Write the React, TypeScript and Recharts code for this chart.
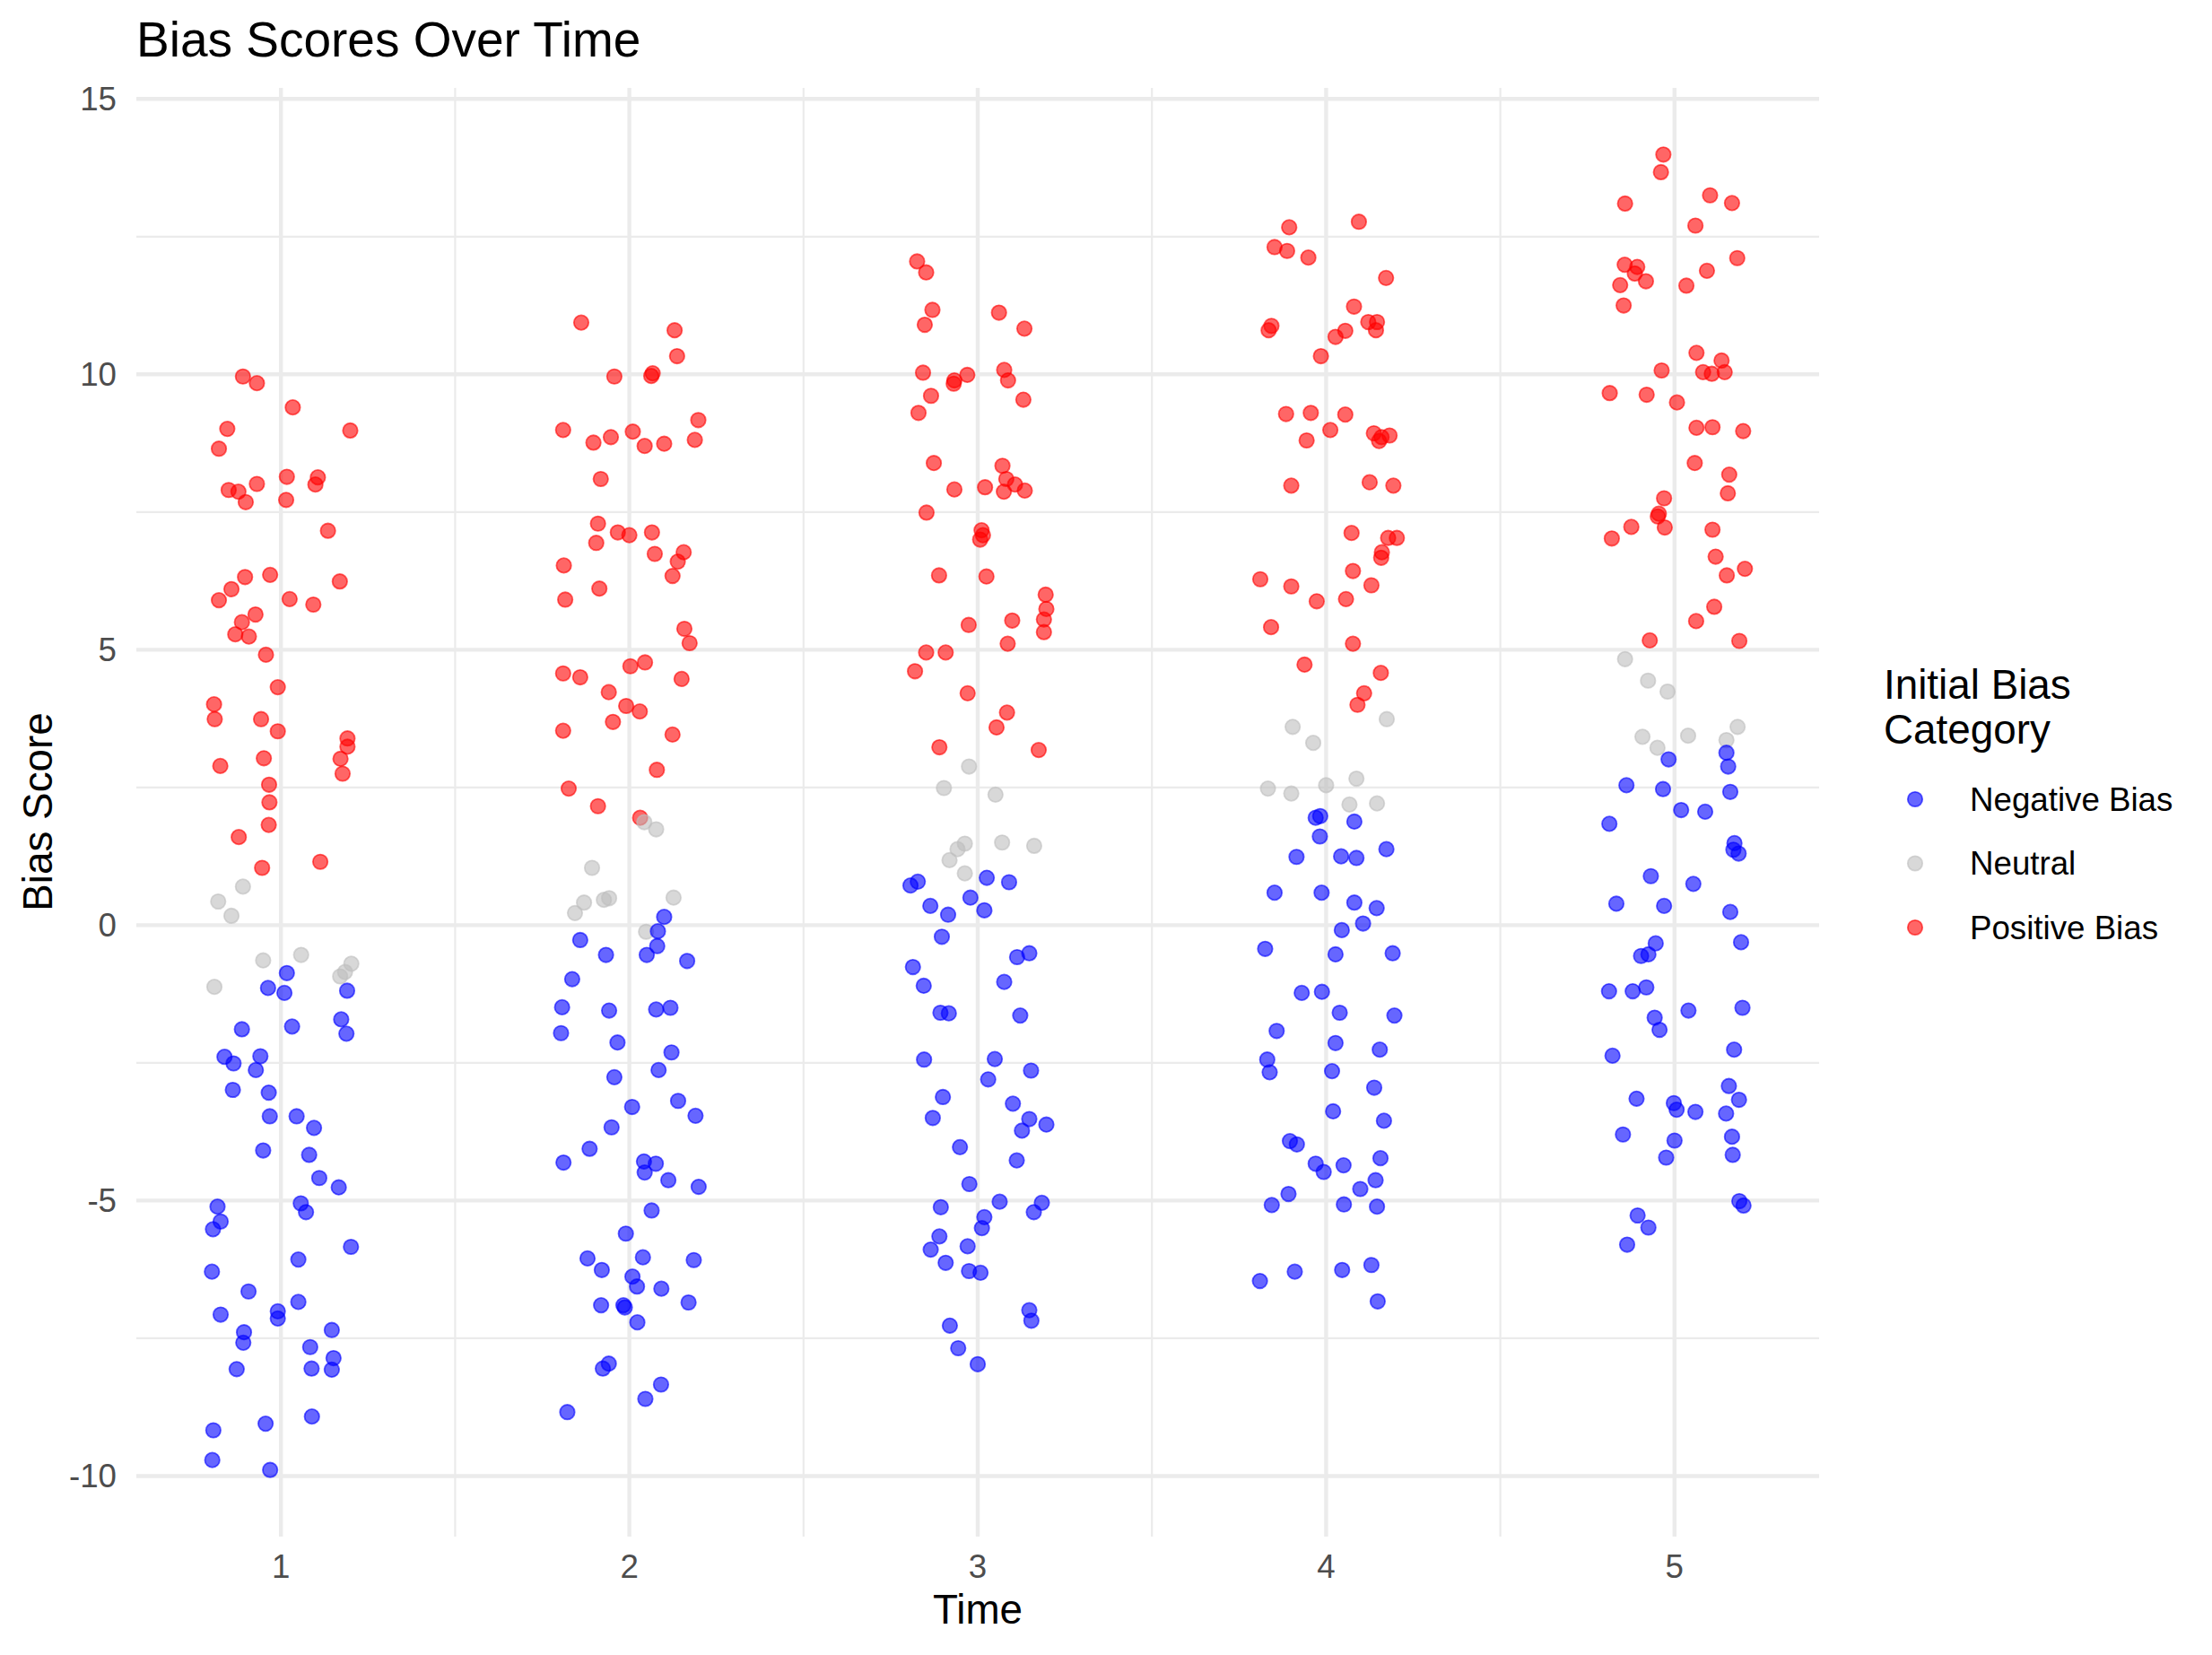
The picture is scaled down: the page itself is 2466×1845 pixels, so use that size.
import { ScatterChart, Scatter, XAxis, YAxis, CartesianGrid } from 'recharts';

const FONT = '"Liberation Sans", Arial, Helvetica, sans-serif';

const TIME_TICKS = [1, 2, 3, 4, 5];
const TIME_MINOR = [1.5, 2.5, 3.5, 4.5];
const SCORE_TICKS = [-10, -5, 0, 5, 10, 15];
const SCORE_MINOR = [-7.5, -2.5, 2.5, 7.5, 12.5];

const CATEGORIES = ['Negative Bias', 'Neutral', 'Positive Bias'];
const COLORS: Record<string, string> = {
  'Negative Bias': '#0000FF',
  Neutral: '#BEBEBE',
  'Positive Bias': '#FF0000',
};

// [jittered time, bias score]
const positiveBias: [number, number][] = [
  // time 1
  [0.891, 9.96], [0.931, 9.84], [1.034, 9.4], [0.846, 9.01], [1.199, 8.98], [0.822, 8.65],
  [1.017, 8.14], [1.106, 8.13], [1.099, 8.0], [0.85, 7.9], [0.878, 7.87], [0.931, 8.01],
  [0.899, 7.68], [1.015, 7.72], [1.135, 7.16], [0.897, 6.32], [0.969, 6.36], [0.858, 6.1],
  [1.169, 6.24], [0.822, 5.9], [1.025, 5.92], [1.093, 5.82], [0.927, 5.64], [0.888, 5.5],
  [0.869, 5.28], [0.908, 5.24], [0.957, 4.91], [0.991, 4.32], [0.808, 4.01], [0.81, 3.74],
  [0.943, 3.74], [0.991, 3.52], [1.191, 3.39], [1.191, 3.24], [1.171, 3.02], [1.177, 2.75],
  [0.951, 3.03], [0.826, 2.89], [0.966, 2.55], [0.967, 2.23], [0.965, 1.82], [0.879, 1.6],
  [0.946, 1.04], [1.113, 1.15],
  // time 2
  [1.862, 10.94], [2.13, 10.8], [2.137, 10.33], [1.957, 9.96], [2.067, 10.02], [2.063, 9.97],
  [1.81, 8.99], [1.897, 8.76], [1.947, 8.86], [2.01, 8.96], [2.044, 8.7], [2.1, 8.74],
  [2.198, 9.17], [2.188, 8.81], [1.918, 8.1], [1.91, 7.29], [1.967, 7.13], [2.0, 7.08],
  [2.065, 7.13], [1.905, 6.94], [2.073, 6.74], [2.156, 6.77], [2.139, 6.6], [2.124, 6.34],
  [1.812, 6.53], [1.914, 6.11], [1.816, 5.91], [2.158, 5.38], [2.173, 5.12], [1.81, 4.57],
  [1.859, 4.5], [2.003, 4.7], [2.045, 4.77], [2.15, 4.47], [1.941, 4.23], [1.991, 3.98],
  [2.03, 3.88], [1.953, 3.69], [1.81, 3.53], [2.124, 3.46], [2.079, 2.82], [1.826, 2.48],
  [1.91, 2.16], [2.031, 1.95],
  // time 3
  [2.826, 12.05], [2.852, 11.85], [2.87, 11.17], [2.848, 10.9], [3.061, 11.12], [3.134, 10.83],
  [2.843, 10.03], [2.933, 9.89], [2.931, 9.83], [2.97, 9.99], [3.076, 10.08], [3.087, 9.89],
  [2.866, 9.61], [2.83, 9.3], [3.131, 9.54], [2.874, 8.39], [3.071, 8.34], [3.082, 8.1],
  [3.107, 8.0], [3.075, 7.87], [3.135, 7.89], [2.933, 7.91], [3.021, 7.95], [2.853, 7.49],
  [3.011, 7.17], [3.015, 7.08], [3.007, 7.0], [2.889, 6.35], [3.025, 6.33], [3.195, 6.0],
  [3.197, 5.74], [3.19, 5.55], [3.19, 5.32], [3.099, 5.53], [3.086, 5.11], [2.974, 5.45],
  [2.852, 4.95], [2.908, 4.95], [2.82, 4.61], [2.971, 4.21], [3.084, 3.86], [3.054, 3.59],
  [2.89, 3.23], [3.175, 3.18],
  // time 4
  [3.894, 12.67], [4.094, 12.77], [3.852, 12.31], [3.888, 12.24], [3.949, 12.12], [4.172, 11.75],
  [4.08, 11.23], [3.843, 10.88], [3.835, 10.8], [4.121, 10.95], [4.146, 10.95], [4.143, 10.8],
  [4.055, 10.79], [4.027, 10.68], [3.985, 10.33], [3.885, 9.28], [3.956, 9.3], [4.055, 9.27],
  [4.012, 8.99], [3.944, 8.8], [4.137, 8.93], [4.159, 8.86], [4.152, 8.79], [4.182, 8.89],
  [3.9, 7.98], [4.125, 8.04], [4.193, 7.98], [4.073, 7.12], [4.178, 7.03], [4.203, 7.03],
  [4.16, 6.77], [4.158, 6.67], [3.811, 6.28], [3.9, 6.15], [4.077, 6.43], [4.13, 6.17],
  [3.973, 5.88], [4.057, 5.92], [3.842, 5.41], [4.077, 5.11], [3.938, 4.73], [4.157, 4.58],
  [4.109, 4.21], [4.09, 4.0],
  // time 5
  [4.968, 13.99], [4.961, 13.67], [5.102, 13.25], [5.165, 13.11], [4.858, 13.1], [5.06, 12.7],
  [5.18, 12.11], [4.857, 11.99], [4.893, 11.95], [4.886, 11.83], [5.093, 11.88], [4.844, 11.62],
  [4.918, 11.69], [5.034, 11.61], [4.854, 11.25], [5.063, 10.39], [5.135, 10.25], [4.963, 10.07],
  [5.082, 10.04], [5.107, 10.01], [5.144, 10.04], [4.814, 9.66], [4.92, 9.63], [5.007, 9.49],
  [5.063, 9.03], [5.109, 9.04], [5.197, 8.97], [5.058, 8.39], [5.157, 8.18], [5.153, 7.84],
  [4.97, 7.75], [4.955, 7.47], [4.952, 7.42], [4.972, 7.22], [4.876, 7.23], [4.82, 7.02],
  [5.109, 7.18], [5.118, 6.69], [5.15, 6.35], [5.202, 6.47], [5.114, 5.78], [5.062, 5.52],
  [4.929, 5.17], [5.186, 5.16],
];

const neutral: [number, number][] = [
  // time 1
  [0.891, 0.7], [0.82, 0.43], [0.858, 0.17], [0.949, -0.64], [1.058, -0.54], [0.809, -1.12],
  [1.202, -0.7], [1.184, -0.85], [1.17, -0.93],
  // time 2
  [2.043, 1.87], [2.077, 1.74], [1.893, 1.04], [1.87, 0.41], [1.844, 0.22], [1.927, 0.46],
  [1.942, 0.49], [2.127, 0.5], [2.048, -0.12],
  // time 3
  [2.975, 2.88], [2.903, 2.49], [3.051, 2.37], [2.963, 1.48], [2.942, 1.38], [2.919, 1.18],
  [3.07, 1.5], [3.162, 1.44], [2.963, 0.94],
  // time 4
  [4.174, 3.74], [3.904, 3.6], [3.963, 3.31], [3.833, 2.48], [3.9, 2.39], [4.0, 2.54],
  [4.087, 2.66], [4.067, 2.19], [4.146, 2.21],
  // time 5
  [4.858, 4.83], [4.924, 4.44], [4.98, 4.24], [4.908, 3.42], [4.951, 3.22], [5.039, 3.44],
  [5.181, 3.6], [5.149, 3.36],
];

const negativeBias: [number, number][] = [
  // time 1
  [1.017, -0.87], [0.963, -1.14], [1.01, -1.23], [1.19, -1.19], [1.032, -1.84], [1.173, -1.71],
  [1.188, -1.97], [0.888, -1.89], [0.838, -2.39], [0.864, -2.51], [0.941, -2.38], [0.928, -2.63],
  [0.862, -2.99], [0.965, -3.04], [0.968, -3.47], [1.045, -3.47], [1.095, -3.68], [0.949, -4.09],
  [1.081, -4.17], [1.11, -4.59], [1.166, -4.76], [0.818, -5.11], [0.827, -5.38], [0.805, -5.52],
  [1.057, -5.05], [1.072, -5.21], [1.201, -5.84], [1.05, -6.07], [0.802, -6.29], [0.907, -6.65],
  [0.827, -7.07], [0.991, -7.01], [0.991, -7.14], [1.05, -6.84], [0.894, -7.39], [0.892, -7.58],
  [1.146, -7.35], [1.084, -7.66], [1.151, -7.86], [1.146, -8.07], [1.088, -8.05], [0.873, -8.06],
  [1.089, -8.92], [0.806, -9.17], [0.956, -9.05], [0.803, -9.71], [0.969, -9.89],
  // time 2
  [2.1, 0.15], [2.082, -0.11], [2.08, -0.38], [2.05, -0.54], [1.859, -0.27], [1.933, -0.54],
  [2.166, -0.65], [1.836, -0.98], [1.807, -1.49], [1.942, -1.55], [2.077, -1.53], [2.118, -1.5],
  [1.804, -1.96], [1.966, -2.13], [2.121, -2.31], [2.084, -2.63], [1.957, -2.76], [2.008, -3.3],
  [2.14, -3.19], [2.19, -3.46], [1.949, -3.67], [1.886, -4.06], [1.811, -4.31], [2.042, -4.29],
  [2.076, -4.33], [2.044, -4.49], [2.112, -4.63], [2.199, -4.75], [2.064, -5.18], [1.99, -5.6],
  [1.88, -6.05], [1.921, -6.26], [2.039, -6.03], [2.185, -6.08], [2.009, -6.38], [2.022, -6.56],
  [2.092, -6.6], [1.919, -6.9], [1.983, -6.9], [1.987, -6.94], [2.17, -6.85], [2.023, -7.21],
  [1.941, -7.96], [1.924, -8.05], [2.091, -8.34], [2.046, -8.6], [1.822, -8.84],
  // time 3
  [3.026, 0.86], [3.09, 0.78], [2.828, 0.79], [2.807, 0.72], [2.979, 0.5], [2.864, 0.35],
  [3.019, 0.27], [2.915, 0.19], [2.897, -0.21], [3.113, -0.58], [3.148, -0.51], [2.814, -0.76],
  [2.845, -1.1], [3.076, -1.03], [2.893, -1.59], [2.917, -1.6], [3.122, -1.64], [2.846, -2.44],
  [3.049, -2.43], [3.153, -2.64], [3.03, -2.8], [2.9, -3.12], [2.871, -3.5], [3.101, -3.24],
  [3.148, -3.52], [3.127, -3.73], [3.197, -3.62], [2.949, -4.03], [3.112, -4.27], [2.976, -4.7],
  [2.894, -5.12], [3.063, -5.02], [3.184, -5.04], [3.161, -5.21], [3.019, -5.3], [3.012, -5.5],
  [2.89, -5.65], [2.865, -5.89], [2.971, -5.83], [2.908, -6.13], [2.975, -6.28], [3.008, -6.31],
  [3.148, -6.99], [3.154, -7.18], [2.92, -7.27], [2.944, -7.68], [3.0, -7.97],
  // time 4
  [3.97, 1.95], [3.983, 1.98], [4.081, 1.88], [3.982, 1.61], [3.915, 1.24], [4.043, 1.25],
  [4.087, 1.22], [4.173, 1.38], [3.852, 0.59], [3.987, 0.59], [4.081, 0.41], [4.145, 0.31],
  [4.106, 0.03], [4.045, -0.09], [3.825, -0.43], [4.027, -0.53], [4.191, -0.51], [3.93, -1.23],
  [3.988, -1.21], [4.039, -1.59], [4.196, -1.64], [3.858, -1.92], [4.027, -2.14], [4.154, -2.26],
  [3.831, -2.44], [3.838, -2.67], [4.017, -2.65], [4.138, -2.95], [4.02, -3.38], [4.166, -3.55],
  [3.896, -3.92], [3.916, -3.98], [3.97, -4.33], [3.993, -4.48], [4.05, -4.36], [4.156, -4.23],
  [4.142, -4.63], [4.098, -4.79], [3.892, -4.88], [3.844, -5.08], [4.051, -5.07], [4.146, -5.11],
  [3.91, -6.29], [3.81, -6.46], [4.046, -6.26], [4.13, -6.17], [4.148, -6.83],
  // time 5
  [4.983, 3.01], [5.149, 3.13], [5.154, 2.88], [4.862, 2.54], [4.967, 2.47], [5.16, 2.42],
  [5.019, 2.09], [5.088, 2.06], [4.813, 1.84], [5.172, 1.49], [5.169, 1.37], [5.184, 1.3],
  [4.932, 0.89], [5.054, 0.75], [4.833, 0.39], [4.97, 0.35], [5.16, 0.24], [4.946, -0.33],
  [5.191, -0.31], [4.925, -0.53], [4.904, -0.56], [4.812, -1.2], [4.88, -1.2], [4.919, -1.13],
  [5.04, -1.55], [5.195, -1.5], [4.943, -1.68], [4.957, -1.9], [4.822, -2.37], [5.171, -2.26],
  [5.156, -2.92], [5.185, -3.17], [4.891, -3.15], [4.998, -3.23], [5.006, -3.35], [5.06, -3.39],
  [5.148, -3.42], [4.852, -3.8], [5.165, -3.84], [5.0, -3.91], [4.976, -4.22], [5.167, -4.17],
  [5.186, -5.01], [5.198, -5.09], [4.894, -5.27], [4.925, -5.49], [4.864, -5.8],
];

const SERIES: Record<string, [number, number][]> = {
  'Negative Bias': negativeBias,
  Neutral: neutral,
  'Positive Bias': positiveBias,
};

const toRows = (pts: [number, number][]) => pts.map(([x, y]) => ({ x, y }));

const dot = (color: string) => (props: any) => (
  <circle
    cx={props.cx}
    cy={props.cy}
    r={8.2}
    fill={color}
    fillOpacity={0.6}
    stroke={color}
    strokeOpacity={0.6}
    strokeWidth={1.8}
  />
);

const X_DOMAIN: [number, number] = [0.585, 5.415];
const Y_DOMAIN: [number, number] = [-11.1, 15.2];

// map a value through an axis scale, whichever shape the scale object has
const project = (scale: any, v: number, start: number, size: number, domain: [number, number], flip: boolean) => {
  if (typeof scale === 'function') return scale(v);
  if (scale && typeof scale.map === 'function') return scale.map(v);
  const t = (v - domain[0]) / (domain[1] - domain[0]);
  return flip ? start + size * (1 - t) : start + size * t;
};

const minorVertical = ({ xAxis, offset }: any) =>
  TIME_MINOR.map((v) => project(xAxis?.scale, v, offset.left, offset.width, X_DOMAIN, false));
const minorHorizontal = ({ yAxis, offset }: any) =>
  SCORE_MINOR.map((v) => project(yAxis?.scale, v, offset.top, offset.height, Y_DOMAIN, true));

export default function App() {
  const tickStyle = { fontSize: 36.7, fill: '#4D4D4D', fontFamily: FONT };
  // drawing order: positive first, then neutral, negative on top
  const drawOrder = ['Positive Bias', 'Neutral', 'Negative Bias'];

  return (
    <div style={{ position: 'absolute', left: 0, top: 0, width: 2466, height: 1845, background: '#fff' }}>
      <ScatterChart width={2466} height={1845} margin={{ top: 98, right: 438, bottom: 0, left: 0 }}>
        <XAxis
          dataKey="x"
          type="number"
          domain={X_DOMAIN}
          ticks={TIME_TICKS}
          height={132}
          axisLine={false}
          tickLine={false}
          tickSize={0}
          tickMargin={20}
          tick={tickStyle}
        />
        <YAxis
          dataKey="y"
          type="number"
          domain={Y_DOMAIN}
          ticks={SCORE_TICKS}
          width={152}
          axisLine={false}
          tickLine={false}
          tickSize={0}
          tickMargin={22}
          tick={tickStyle}
        />
        <CartesianGrid
          stroke="#EBEBEB"
          strokeWidth={2.2}
          verticalCoordinatesGenerator={minorVertical}
          horizontalCoordinatesGenerator={minorHorizontal}
        />
        <CartesianGrid stroke="#EBEBEB" strokeWidth={4.4} syncWithTicks />
        {drawOrder.map((name) => (
          <Scatter
            key={name}
            name={name}
            data={toRows(SERIES[name])}
            shape={dot(COLORS[name])}
            isAnimationActive={false}
          />
        ))}
      </ScatterChart>

      <svg
        width={2466}
        height={1845}
        style={{ position: 'absolute', left: 0, top: 0, pointerEvents: 'none' }}
        fontFamily={FONT}
      >
        <text x={152} y={44} fontSize={55} dominantBaseline="central" fill="#000">
          Bias Scores Over Time
        </text>
        <text x={1090} y={1794} fontSize={45.8} textAnchor="middle" dominantBaseline="central" fill="#000">
          Time
        </text>
        <text
          x={42}
          y={905}
          fontSize={45.8}
          textAnchor="middle"
          dominantBaseline="central"
          fill="#000"
          transform="rotate(-90 42 905)"
        >
          Bias Score
        </text>

        <text x={2100} y={763} fontSize={45.8} dominantBaseline="central" fill="#000">
          Initial Bias
        </text>
        <text x={2100} y={813} fontSize={45.8} dominantBaseline="central" fill="#000">
          Category
        </text>
        {CATEGORIES.map((name, i) => {
          const cy = 891 + i * 71.5;
          const c = COLORS[name];
          return (
            <g key={name}>
              <circle cx={2135} cy={cy} r={8.2} fill={c} fillOpacity={0.6} stroke={c} strokeOpacity={0.6} strokeWidth={1.8} />
              <text x={2196} y={cy} fontSize={36.7} dominantBaseline="central" fill="#000">
                {name}
              </text>
            </g>
          );
        })}
      </svg>
    </div>
  );
}
